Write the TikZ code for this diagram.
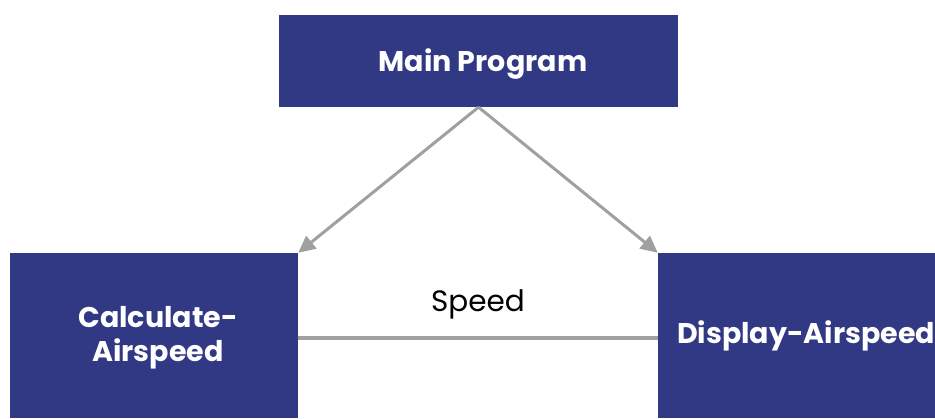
\documentclass[tikz,border=0pt]{standalone}
\usepackage{fontspec}
\setmainfont{Poppins}
\usetikzlibrary{arrows.meta}
\definecolor{boxblue}{RGB}{49,57,132}
\definecolor{linkgray}{RGB}{160,160,160}
\tikzset{
  modbox/.style={fill=boxblue, draw=none, inner sep=0pt},
  modtext/.style={text=white, font=\bfseries\fontsize{28.5}{34}\selectfont, align=center, inner sep=0pt},
  callarrow/.style={draw=linkgray, line width=3pt, -{Triangle[length=17pt,width=16pt]}},
  dataline/.style={draw=linkgray, line width=3.2pt},
}
\begin{document}
\begin{tikzpicture}[x=1pt,y=-1pt]
\useasboundingbox (0,0) rectangle (935,418);
% module boxes
\node[modbox, minimum width=399pt, minimum height=92pt] (main) at (478.5,61) {};
\node[modbox, minimum width=288pt, minimum height=165pt] (calc) at (154,335.5) {};
\node[modbox, minimum width=277pt, minimum height=165pt] (disp) at (796.5,335.5) {};
% box labels
\node[modtext] (mainlbl) at (483,64) {Main Program};
\node[modtext] (calclbl) at (158,338) {Calculate-\\Airspeed};
\node[modtext] (displbl) at (806,336) {Display-Airspeed};
% calls from the main program
\draw[callarrow] (main.south) -- (calc.north east);
\draw[callarrow] (main.south) -- (disp.north west);
% data passed between modules
\draw[dataline] ([yshift=-2.5pt]calc.east) -- ([yshift=-2.5pt]disp.west);
\node[font=\fontsize{29.5}{34}\selectfont, text=black, inner sep=0pt] (speedlbl) at (478,304.5) {Speed};
\end{tikzpicture}
\end{document}
